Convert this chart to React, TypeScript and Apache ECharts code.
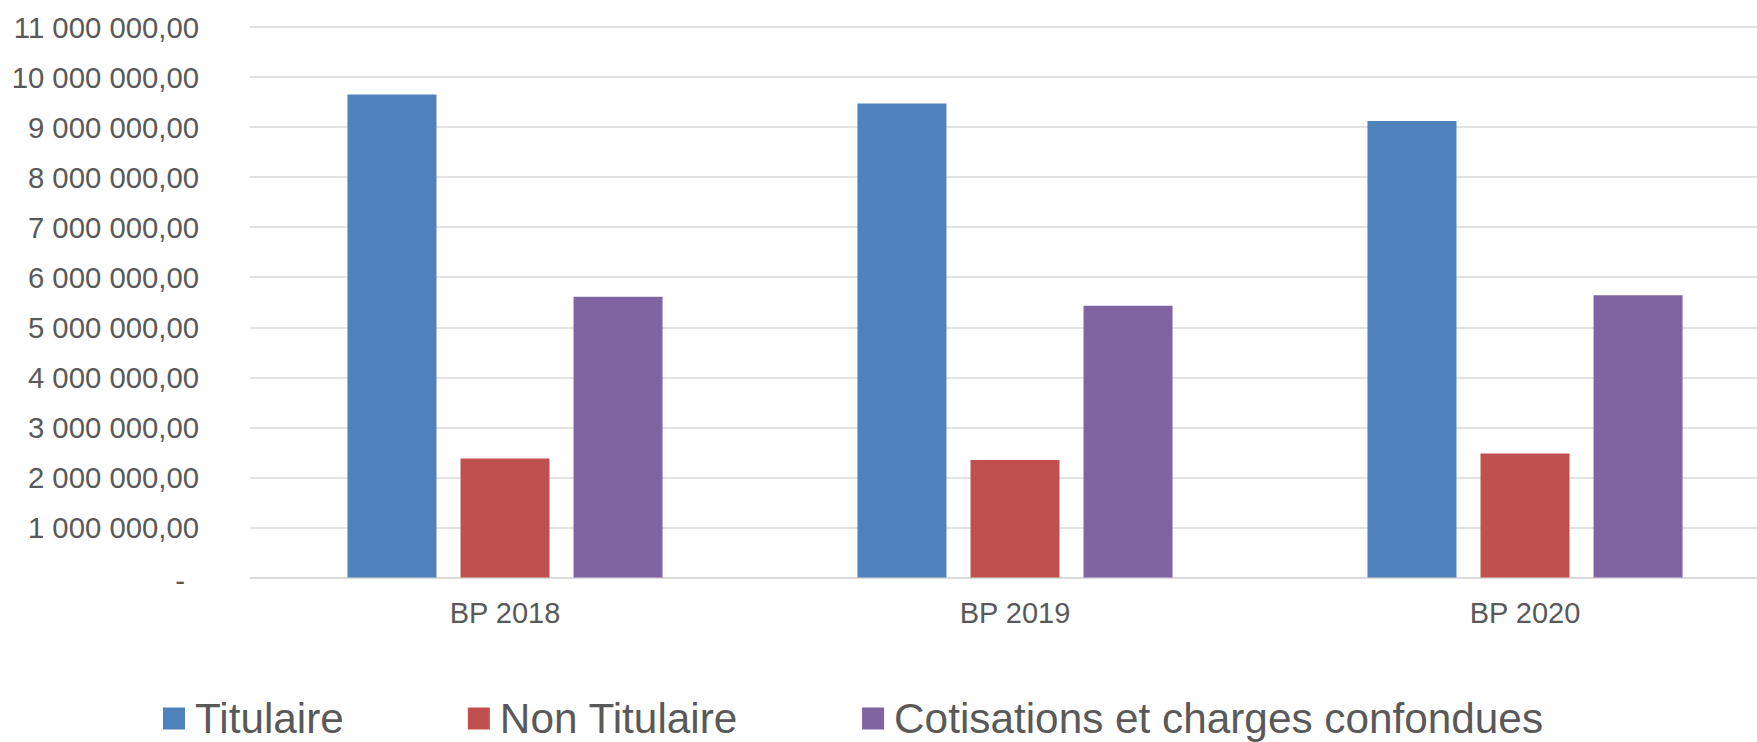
import React, { useEffect, useRef } from "react";
import * as echarts from "echarts";

const categories = ["BP 2018", "BP 2019", "BP 2020"];
const seriesNames = ["Titulaire", "Non Titulaire", "Cotisations et charges confondues"];
const titulaire = [9650000, 9470000, 9120000];
const nonTitulaire = [2380000, 2350000, 2480000];
const cotisations = [5610000, 5430000, 5640000];
const colors = ["#4F81BD", "#C0504D", "#8064A2"];
const yMin = 0;
const yMax = 11000000;
const yStep = 1000000;

function fmt(v: number): string {
  if (v === 0) return "{d|-}";
  return String(Math.round(v)).replace(/\B(?=(\d{3})+(?!\d))/g, " ") + ",00";
}

export default function App() {
  const ref = useRef<HTMLDivElement>(null);
  useEffect(() => {
    document.body.style.margin = "0";
    document.documentElement.style.overflow = "hidden";
    const chart = echarts.init(ref.current!, null, { renderer: "svg" });
    const font = "'Liberation Sans', Arial, sans-serif";
    const data = [titulaire, nonTitulaire, cotisations];
    chart.setOption({
      animation: false,
      backgroundColor: "#ffffff",
      color: colors,
      textStyle: { fontFamily: font },
      grid: { left: 250, top: 27, bottom: 164.5, right: 0, containLabel: false },
      legend: {
        left: 163,
        top: 697.5,
        padding: 0,
        itemWidth: 22,
        itemHeight: 22,
        itemGap: 124,
        icon: "rect",
        data: seriesNames,
        textStyle: { fontSize: 42.3, color: "#595959", fontFamily: font, padding: [0, 0, 6, 5] },
      },
      xAxis: {
        type: "category",
        data: categories,
        axisLine: { show: true, lineStyle: { color: "#d9d9d9", width: 1.5 } },
        axisTick: { show: false },
        axisLabel: { fontSize: 29, color: "#595959", margin: 21, fontFamily: font },
      },
      yAxis: {
        type: "value",
        min: yMin,
        max: yMax,
        interval: yStep,
        axisLine: { show: false },
        axisTick: { show: false },
        splitLine: { lineStyle: { color: "#d9d9d9", width: 1.5 } },
        axisLabel: {
          fontSize: 29.3,
          color: "#595959",
          margin: 51,
          fontFamily: font,
          formatter: fmt,
          rich: { d: { fontSize: 29.3, color: "#595959", fontFamily: font, padding: [6, 14, 0, 0] } },
        },
      },
      series: seriesNames.map((name, i) => ({
        name,
        type: "bar",
        data: data[i],
        barWidth: 89,
        barGap: "27%",
        itemStyle: { color: colors[i] },
      })),
    });
    return () => chart.dispose();
  }, []);
  return (
    <div
      ref={ref}
      style={{ position: "fixed", left: 0, top: 0, width: 1780, height: 742 }}
    />
  );
}
